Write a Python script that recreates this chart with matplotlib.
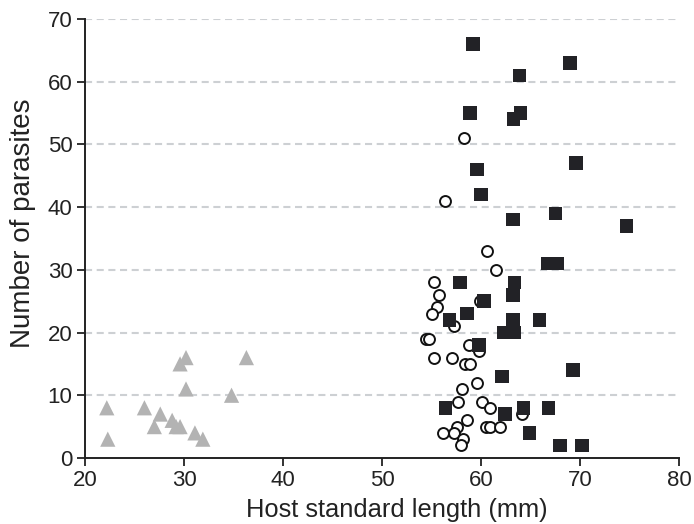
import matplotlib.pyplot as plt

# Host standard length (mm) / number of parasites
tri_x = [22.2, 22.3, 26.0, 27.6, 27.0, 28.8, 29.2, 29.6, 30.2, 31.1, 31.9, 34.8, 29.6, 30.2, 36.3]
tri_y = [8, 3, 8, 7, 5, 6, 5, 5, 11, 4, 3, 10, 15, 16, 16]

circ_x = [58.3, 56.4, 60.6, 61.5, 55.2, 55.8, 55.5, 59.9, 55.0, 57.3, 54.4, 54.7,
          58.8, 59.8, 55.2, 57.1, 58.4, 58.9, 59.6, 58.1, 57.7, 60.1, 60.9, 64.1,
          58.6, 57.6, 60.5, 60.9, 61.9, 56.2, 57.3, 58.2, 58.0]
circ_y = [51, 41, 33, 30, 28, 26, 24, 25, 23, 21, 19, 19,
          18, 17, 16, 16, 15, 15, 12, 11, 9, 9, 8, 7,
          6, 5, 5, 5, 5, 4, 4, 3, 2]

sq_x = [59.2, 69.0, 63.9, 58.9, 64.0, 63.3, 69.6, 59.6, 60.0, 67.5, 63.2, 74.7,
        66.7, 67.7, 57.9, 63.4, 63.2, 60.3, 58.6, 56.8, 63.2, 65.9, 62.3, 63.4,
        59.8, 69.3, 62.1, 56.4, 64.3, 66.8, 62.4, 64.9, 68.0, 70.2]
sq_y = [66, 63, 61, 55, 55, 54, 47, 46, 42, 39, 38, 37,
        31, 31, 28, 28, 26, 25, 23, 22, 22, 22, 20, 20,
        18, 14, 13, 8, 8, 8, 7, 4, 2, 2]

x_ticks = [20, 30, 40, 50, 60, 70, 80]
y_ticks = [0, 10, 20, 30, 40, 50, 60, 70]

plt.rcParams['font.family'] = ['Liberation Sans', 'DejaVu Sans']

fig = plt.figure(figsize=(6.94, 5.24), dpi=100)
ax = fig.add_axes([0.1225, 0.126, 0.856, 0.838])

# gestrichelte Hilfslinien
for y in y_ticks[1:]:
    ax.axhline(y, color="#cdd0d3", lw=1.5, ls=(0, (3.4, 2.2)), zorder=0)

ax.scatter(tri_x, tri_y, marker="^", s=120, color="#b3b3b3", edgecolors="none", zorder=2)
ax.scatter(circ_x, circ_y, marker="o", s=62, facecolors="white",
           edgecolors="#111111", linewidths=1.4, zorder=3)
ax.scatter(sq_x, sq_y, marker="s", s=95, color="#222226", edgecolors="none", zorder=4)

ax.set_xlim(20, 80)
ax.set_ylim(0, 70)
ax.set_xticks(x_ticks)
ax.set_yticks(y_ticks)

for side in ["top", "right"]:
    ax.spines[side].set_visible(False)
for side in ["left", "bottom"]:
    ax.spines[side].set_color("#222222")
    ax.spines[side].set_linewidth(1.4)

ax.tick_params(axis="both", direction="out", length=6, width=1.3,
               colors="#222222", labelsize=16, pad=3)
ax.set_xlabel("Host standard length (mm)", fontsize=18.4, color="#222222")
ax.set_ylabel("Number of parasites", fontsize=20, color="#222222")
ax.xaxis.set_label_coords(0.525, -0.092)
ax.yaxis.set_label_coords(-0.082, 0.535)

fig.savefig("out.png", dpi=100)
